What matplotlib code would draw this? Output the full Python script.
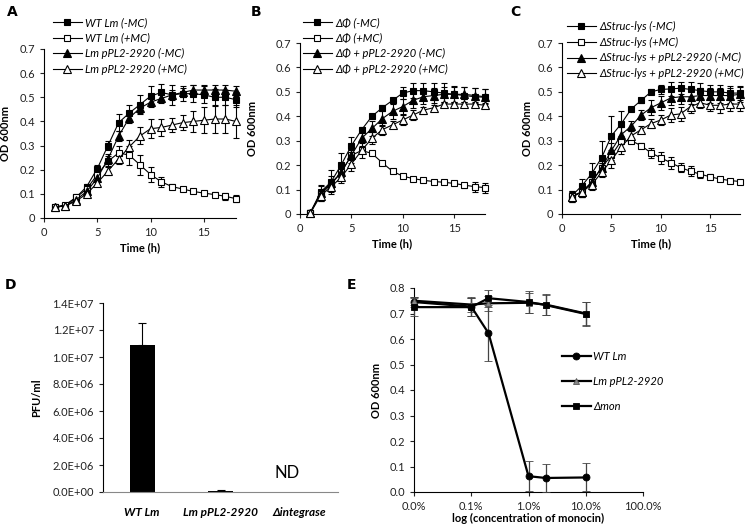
import numpy as np
import matplotlib
matplotlib.use('Agg')
import matplotlib.pyplot as plt
from matplotlib.ticker import MultipleLocator, FuncFormatter, FixedLocator

plt.rcParams['font.family'] = ['Lato', 'DejaVu Sans']
plt.rcParams['font.size'] = 8
plt.rcParams['axes.linewidth'] = 0.8

W, H = 747, 527

# ---- Panels A-C: growth curves ----
hours = list(range(1, 19))

# A
a_labels = ['WT Lm (-MC)', 'WT Lm (+MC)', 'Lm pPL2-2920 (-MC)', 'Lm pPL2-2920 (+MC)']
a_wt_neg = [0.045, 0.05, 0.085, 0.13, 0.205, 0.30, 0.395, 0.435, 0.47, 0.505, 0.52, 0.51, 0.515, 0.515, 0.51, 0.50, 0.50, 0.49]
a_wt_neg_err = [0.005, 0.005, 0.005, 0.01, 0.015, 0.02, 0.035, 0.035, 0.04, 0.04, 0.035, 0.04, 0.03, 0.035, 0.035, 0.035, 0.03, 0.03]
a_wt_pos = [0.045, 0.055, 0.085, 0.12, 0.18, 0.235, 0.27, 0.26, 0.22, 0.18, 0.15, 0.13, 0.12, 0.11, 0.103, 0.097, 0.09, 0.08]
a_wt_pos_err = [0.005, 0.005, 0.005, 0.01, 0.01, 0.02, 0.03, 0.04, 0.04, 0.03, 0.02, 0.01, 0.008, 0.008, 0.008, 0.01, 0.015, 0.015]
a_pl_neg = [0.045, 0.05, 0.075, 0.11, 0.165, 0.245, 0.34, 0.415, 0.455, 0.48, 0.495, 0.51, 0.52, 0.53, 0.53, 0.53, 0.53, 0.525]
a_pl_neg_err = [0.005, 0.005, 0.005, 0.01, 0.01, 0.02, 0.02, 0.02, 0.02, 0.02, 0.02, 0.02, 0.02, 0.02, 0.02, 0.02, 0.02, 0.02]
a_pl_pos = [0.045, 0.05, 0.07, 0.10, 0.145, 0.195, 0.245, 0.295, 0.34, 0.37, 0.375, 0.385, 0.395, 0.40, 0.405, 0.41, 0.41, 0.40]
a_pl_pos_err = [0.005, 0.005, 0.005, 0.01, 0.01, 0.015, 0.02, 0.03, 0.035, 0.04, 0.035, 0.03, 0.03, 0.045, 0.055, 0.06, 0.06, 0.07]

# B
b_labels = ['ΔΦ (-MC)', 'ΔΦ (+MC)', 'ΔΦ + pPL2-2920 (-MC)', 'ΔΦ + pPL2-2920 (+MC)']
b_d_neg = [0.005, 0.09, 0.13, 0.20, 0.28, 0.345, 0.40, 0.435, 0.465, 0.495, 0.505, 0.505, 0.50, 0.495, 0.49, 0.485, 0.48, 0.478]
b_d_neg_err = [0.01, 0.03, 0.05, 0.05, 0.035, 0.01, 0.01, 0.01, 0.01, 0.025, 0.03, 0.03, 0.035, 0.04, 0.035, 0.035, 0.035, 0.035]
b_d_pos = [0.005, 0.08, 0.12, 0.17, 0.24, 0.26, 0.248, 0.21, 0.175, 0.155, 0.145, 0.138, 0.133, 0.13, 0.125, 0.118, 0.112, 0.108]
b_d_pos_err = [0.01, 0.02, 0.02, 0.02, 0.02, 0.01, 0.005, 0.005, 0.005, 0.005, 0.005, 0.005, 0.005, 0.005, 0.008, 0.01, 0.02, 0.02]
b_dp_neg = [0.005, 0.085, 0.125, 0.17, 0.24, 0.31, 0.35, 0.39, 0.42, 0.44, 0.465, 0.48, 0.485, 0.49, 0.49, 0.49, 0.485, 0.48]
b_dp_neg_err = [0.01, 0.03, 0.03, 0.03, 0.03, 0.03, 0.03, 0.03, 0.03, 0.03, 0.03, 0.03, 0.03, 0.03, 0.03, 0.03, 0.03, 0.03]
b_dp_pos = [0.003, 0.075, 0.11, 0.15, 0.205, 0.26, 0.31, 0.345, 0.365, 0.385, 0.405, 0.425, 0.435, 0.45, 0.45, 0.45, 0.45, 0.445]
b_dp_pos_err = [0.01, 0.02, 0.02, 0.025, 0.03, 0.03, 0.025, 0.02, 0.015, 0.02, 0.02, 0.015, 0.01, 0.01, 0.01, 0.01, 0.01, 0.01]

# C
c_labels = ['ΔStruc-lys (-MC)', 'ΔStruc-lys (+MC)', 'ΔStruc-lys + pPL2-2920 (-MC)', 'ΔStruc-lys + pPL2-2920 (+MC)']
c_s_neg = [0.075, 0.115, 0.165, 0.23, 0.32, 0.37, 0.43, 0.465, 0.50, 0.51, 0.512, 0.515, 0.51, 0.505, 0.50, 0.50, 0.495, 0.495]
c_s_neg_err = [0.02, 0.03, 0.045, 0.07, 0.08, 0.05, 0.01, 0.01, 0.01, 0.02, 0.03, 0.025, 0.03, 0.03, 0.03, 0.03, 0.03, 0.03]
c_s_pos = [0.075, 0.09, 0.13, 0.19, 0.24, 0.30, 0.30, 0.28, 0.25, 0.23, 0.21, 0.19, 0.175, 0.163, 0.152, 0.143, 0.137, 0.133]
c_s_pos_err = [0.02, 0.02, 0.02, 0.02, 0.02, 0.01, 0.01, 0.01, 0.02, 0.025, 0.025, 0.02, 0.02, 0.015, 0.01, 0.008, 0.005, 0.005]
c_sp_neg = [0.07, 0.09, 0.13, 0.19, 0.26, 0.325, 0.36, 0.405, 0.435, 0.455, 0.475, 0.48, 0.48, 0.485, 0.485, 0.485, 0.485, 0.49]
c_sp_neg_err = [0.02, 0.02, 0.02, 0.02, 0.03, 0.03, 0.02, 0.02, 0.03, 0.03, 0.03, 0.03, 0.03, 0.03, 0.03, 0.03, 0.03, 0.03]
c_sp_pos = [0.07, 0.09, 0.12, 0.17, 0.22, 0.275, 0.32, 0.345, 0.37, 0.385, 0.405, 0.41, 0.44, 0.455, 0.445, 0.445, 0.45, 0.45]
c_sp_pos_err = [0.02, 0.02, 0.02, 0.02, 0.03, 0.03, 0.02, 0.015, 0.02, 0.02, 0.03, 0.03, 0.025, 0.02, 0.025, 0.03, 0.03, 0.03]

# ---- Panel D: PFU bar chart ----
d_strains = ['WT Lm', 'Lm pPL2-2920', 'Δintegrase']
d_pfu = [1.09e7, 1.0e5, 0.0]
d_err = [1.6e6, 5e4, 0.0]

# ---- Panel E: monocin sensitivity ----
e_conc = [0.0001, 0.001, 0.002, 0.01, 0.02, 0.1]
e_labels = ['WT Lm', 'Lm pPL2-2920', 'Δmon']
e_wt = [0.745, 0.727, 0.623, 0.062, 0.055, 0.057]
e_wt_err = [0.02, 0.035, 0.11, 0.06, 0.055, 0.055]
e_pl = [0.75, 0.735, 0.74, 0.742, 0.735, 0.70]
e_pl_err = [0.015, 0.03, 0.03, 0.04, 0.04, 0.045]
e_mon = [0.725, 0.725, 0.76, 0.745, 0.733, 0.698]
e_mon_err = [0.035, 0.035, 0.033, 0.043, 0.04, 0.047]

fig = plt.figure(figsize=(W / 100, H / 100), dpi=100)


def ax_px(l, t, r, b):
    return fig.add_axes([l / W, 1 - b / H, (r - l) / W, (b - t) / H])


def ylabel_at(ax, box, text, x_px):
    # put the y label centre at a given pixel column
    ax.set_ylabel(text, fontweight='bold', fontsize=8)
    ax.yaxis.set_label_coords((x_px - box[0]) / (box[2] - box[0]), 0.5)


def growth_panel(box, series, labels, leg_xy, letter_xy, letter, ylab_x):
    ax = ax_px(*box)
    styles = [('s', 'black'), ('s', 'white'), ('^', 'black'), ('^', 'white')]
    handles = []
    for (y, e), (m, fc), lab in zip(series, styles, labels):
        ms = 4.8 if m == 's' else 5.2
        ax.errorbar(hours, y, yerr=e, color='black', lw=0.8, elinewidth=0.8,
                    capsize=2.5, capthick=0.8, marker=m, ms=ms,
                    mfc=fc, mec='black', mew=0.8, clip_on=False, zorder=3)
        h, = ax.plot([], [], color='black', lw=0.8, marker=m, ms=ms,
                     mfc=fc, mec='black', mew=0.8)
        handles.append(h)
    ax.set_xlim(0, 18)
    ax.set_ylim(0, 0.7)
    ax.xaxis.set_major_locator(MultipleLocator(5))
    ax.yaxis.set_major_locator(MultipleLocator(0.1))
    ax.yaxis.set_major_formatter(FuncFormatter(lambda v, p: '0' if abs(v) < 1e-9 else f'{v:.1f}'))
    for s in ['top', 'right']:
        ax.spines[s].set_visible(False)
    ax.tick_params(length=3, width=0.8, labelsize=8, colors='#222222')
    ax.set_xlabel('Time (h)', fontweight='bold', fontsize=8, labelpad=3)
    ylabel_at(ax, box, 'OD 600nm', ylab_x)
    fig.legend(handles, labels, loc='upper left',
               bbox_to_anchor=(leg_xy[0] / W, 1 - leg_xy[1] / H),
               frameon=False, handlelength=2.6, handletextpad=0.3,
               labelspacing=0.42, borderpad=0, borderaxespad=0,
               prop={'style': 'italic', 'size': 8})
    fig.text(letter_xy[0] / W, 1 - letter_xy[1] / H, letter, fontweight='bold',
             fontsize=10, ha='left', va='center', family='DejaVu Sans')
    return ax


growth_panel((44, 49, 236, 218),
             [(a_wt_neg, a_wt_neg_err), (a_wt_pos, a_wt_pos_err),
              (a_pl_neg, a_pl_neg_err), (a_pl_pos, a_pl_pos_err)],
             a_labels, (53, 17), (7, 12), 'A', 11)
growth_panel((300, 43, 485, 214),
             [(b_d_neg, b_d_neg_err), (b_d_pos, b_d_pos_err),
              (b_dp_neg, b_dp_neg_err), (b_dp_pos, b_dp_pos_err)],
             b_labels, (303, 17), (251, 12), 'B', 258)
growth_panel((562, 43, 740, 214),
             [(c_s_neg, c_s_neg_err), (c_s_pos, c_s_pos_err),
              (c_sp_neg, c_sp_neg_err), (c_sp_pos, c_sp_pos_err)],
             c_labels, (567, 21), (510, 12), 'C', 533)

# ---- D ----
box_d = (103, 303, 338, 492)
axd = ax_px(*box_d)
xd = np.arange(len(d_strains))
axd.bar(xd, d_pfu, width=0.32, color='black', zorder=2)
axd.errorbar(xd[:2], d_pfu[:2], yerr=[[0, 0], d_err[:2]], fmt='none', ecolor='black',
             elinewidth=0.8, capsize=3, capthick=0.8)
axd.set_xlim(-0.5, 2.5)
axd.set_ylim(0, 1.4e7)
axd.yaxis.set_major_locator(MultipleLocator(2e6))
axd.yaxis.set_major_formatter(FuncFormatter(lambda v, p: f'{v:.1E}'))
axd.set_xticks(xd)
axd.set_xticklabels(d_strains, fontweight='bold', style='italic', fontsize=8.5)
axd.tick_params(axis='x', length=0, pad=11)
axd.tick_params(axis='y', length=3, width=0.8, labelsize=8, colors='#222222')
for s in ['top', 'right']:
    axd.spines[s].set_visible(False)
axd.spines['bottom'].set_color('#888888')
ylabel_at(axd, box_d, 'PFU/ml', 42)
axd.text(1.85, 0.8e6, 'ND', fontsize=12, ha='center', va='bottom')
fig.text(5 / W, 1 - 285 / H, 'D', fontweight='bold', fontsize=10, ha='left', va='center', family='DejaVu Sans')

# ---- E ----
box_e = (414, 288, 643, 492)
axe = ax_px(*box_e)
e_series = [(e_wt, e_wt_err, 'o', 'black'), (e_pl, e_pl_err, '^', '#888888'), (e_mon, e_mon_err, 's', 'black')]
handles = []
for (y, e, m, fc), lab in zip(e_series, e_labels):
    ec = 'black' if fc == 'black' else '#555555'
    axe.errorbar(e_conc, y, yerr=e, color='black', lw=1.6, ecolor='#444444', elinewidth=0.9,
                 capsize=3, capthick=0.9, marker=m, ms=5, mfc=fc, mec=ec,
                 mew=0.6, clip_on=False, zorder=3)
    h, = axe.plot([], [], color='black', lw=1.6, marker=m, ms=5, mfc=fc, mec=ec, mew=0.6)
    handles.append(h)
axe.set_xscale('log')
axe.set_xlim(1e-4, 1)
axe.set_ylim(0, 0.8)
axe.xaxis.set_major_locator(FixedLocator([1e-4, 1e-3, 1e-2, 1e-1, 1]))
axe.xaxis.set_minor_locator(FixedLocator([]))
axe.xaxis.set_major_formatter(FuncFormatter(lambda v, p: f'{v * 100:.1f}%'))
axe.yaxis.set_major_locator(MultipleLocator(0.1))
axe.yaxis.set_major_formatter(FuncFormatter(lambda v, p: f'{v:.1f}'))
for s in ['top', 'right']:
    axe.spines[s].set_visible(False)
axe.tick_params(length=3, width=0.8, labelsize=8, colors='#222222')
axe.set_xlabel('log (concentration of monocin)', fontweight='bold', fontsize=8, labelpad=1)
ylabel_at(axe, box_e, 'OD 600nm', 382)
fig.legend(handles, e_labels, loc='upper left', bbox_to_anchor=(562 / W, 1 - 351 / H),
           frameon=False, handlelength=2.6, handletextpad=0.2, labelspacing=1.25,
           borderpad=0, borderaxespad=0, prop={'style': 'italic', 'size': 8})
fig.text(347 / W, 1 - 285 / H, 'E', fontweight='bold', fontsize=10, ha='left', va='center', family='DejaVu Sans')

fig.savefig('out.png', dpi=100)
